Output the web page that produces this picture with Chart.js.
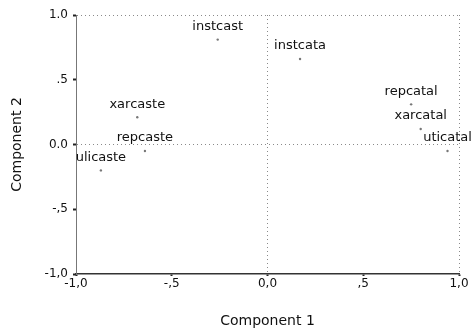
<!DOCTYPE html>
<html>
<head>
<meta charset="utf-8">
<script src="https://cdn.jsdelivr.net/npm/chart.js@4/dist/chart.umd.min.js"></script>
<style>
  html, body { margin: 0; padding: 0; background: #fff; }
  #wrap { width: 471px; height: 336px; position: relative; }
</style>
</head>
<body>
<div id="wrap"><canvas id="c"></canvas></div>
<script>
// Data
const pointLabels = ['instcast', 'instcata', 'xarcaste', 'repcaste', 'ulicaste', 'repcatal', 'xarcatal', 'uticatal'];
const component1 = [-0.26, 0.17, -0.68, -0.64, -0.87, 0.75, 0.80, 0.94];
const component2 = [0.81, 0.66, 0.21, -0.05, -0.20, 0.31, 0.12, -0.05];
const xTickValues = [-1, -0.5, 0, 0.5, 1];
const xTickLabels = ['-1,0', '-,5', '0,0', ',5', '1,0'];
const yTickValues = [-1, -0.5, 0, 0.5, 1];
const yTickLabels = ['-1,0', '-,5', '0.0', '.5', '1.0'];

const FONT = 'DejaVu Sans';
const TEXT = '#111';

const points = component1.map((x, i) => ({ x: x, y: component2[i] }));

function tickLabel(values, labels) {
  return function (v) {
    const i = values.findIndex(t => Math.abs(t - v) < 1e-6);
    return i >= 0 ? labels[i] : '';
  };
}
function gridColor(ctx) {
  const v = ctx.tick ? ctx.tick.value : null;
  if (v === null) return 'rgba(0,0,0,0)';
  if (Math.abs(v) < 1e-6 || Math.abs(v - 1) < 1e-6) return '#8a8a8a';
  return 'rgba(0,0,0,0)';
}

const labelPlugin = {
  id: 'pointLabels',
  afterDatasetsDraw(chart) {
    const ctx = chart.ctx;
    const meta = chart.getDatasetMeta(0);
    ctx.save();
    ctx.font = '13px "' + FONT + '"';
    ctx.fillStyle = TEXT;
    ctx.textAlign = 'center';
    ctx.textBaseline = 'middle';
    meta.data.forEach((el, i) => {
      ctx.fillText(pointLabels[i], el.x, el.y - 13);
    });
    ctx.restore();
  }
};

new Chart(document.getElementById('c'), {
  type: 'scatter',
  data: {
    datasets: [{
      data: points,
      pointRadius: 1.2,
      pointBackgroundColor: '#777',
      pointBorderWidth: 0
    }]
  },
  options: {
    responsive: true,
    maintainAspectRatio: false,
    animation: false,
    layout: { padding: { top: 15, right: 12, left: 0, bottom: 0 } },
    plugins: { legend: { display: false }, tooltip: { enabled: false } },
    scales: {
      x: {
        type: 'linear',
        min: -1, max: 1,
        afterBuildTicks(scale) { scale.ticks = xTickValues.map(v => ({ value: v })); },
        afterFit(scale) { scale.height = 62; },
        ticks: {
          callback: tickLabel(xTickValues, xTickLabels),
          font: { family: FONT, size: 12 },
          color: TEXT,
          padding: 1,
          maxRotation: 0,
          autoSkip: false
        },
        grid: {
          color: gridColor,
          lineWidth: 1,
          drawTicks: true,
          tickLength: 2,
          tickColor: '#222',
          tickWidth: 2
        },
        border: { display: true, color: '#333', width: 1.5, dash: [1, 3] },
        title: {
          display: true,
          text: 'Component 1',
          font: { family: FONT, size: 14 },
          color: TEXT,
          padding: { top: 6, bottom: 6 }
        }
      },
      y: {
        type: 'linear',
        min: -1, max: 1,
        afterBuildTicks(scale) { scale.ticks = yTickValues.map(v => ({ value: v })); },
        afterFit(scale) { scale.width = 76; },
        ticks: {
          callback: tickLabel(yTickValues, yTickLabels),
          font: { family: FONT, size: 12 },
          color: TEXT,
          padding: 5,
          autoSkip: false
        },
        grid: {
          color: gridColor,
          lineWidth: 1,
          drawTicks: true,
          tickLength: 3,
          tickColor: '#222',
          tickWidth: 2
        },
        border: { display: true, color: '#777', width: 1, dash: [1, 3] },
        title: {
          display: true,
          text: 'Component 2',
          font: { family: FONT, size: 14 },
          color: TEXT,
          padding: { top: 9, bottom: 9 }
        }
      }
    }
  },
  plugins: [labelPlugin]
});
</script>
</body>
</html>
